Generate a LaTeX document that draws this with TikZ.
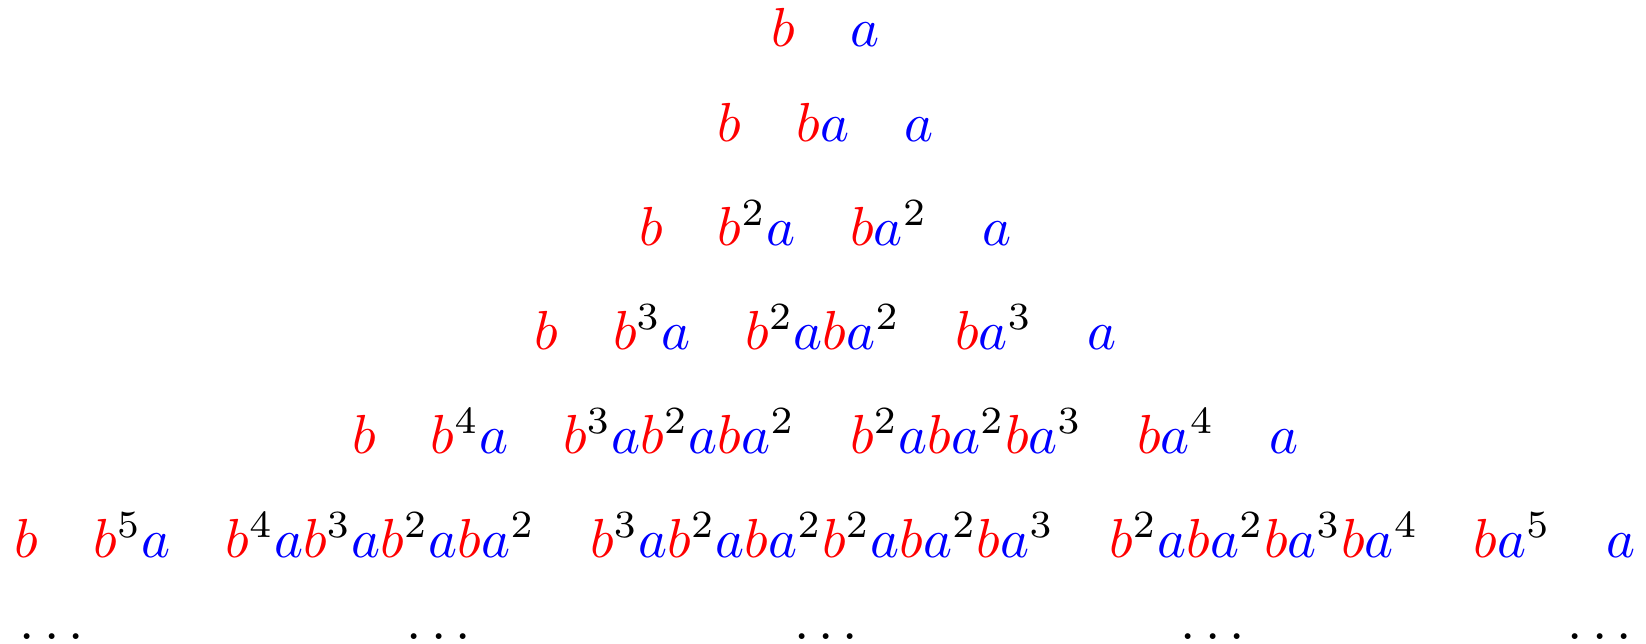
\documentclass[tikz,border=0pt]{standalone}
\usepackage{xcolor}
\newcommand{\B}{{\color{red}b}}
\newcommand{\A}{{\color{blue}a}}
\tikzset{word/.style={inner sep=0pt, outer sep=0pt, anchor=base}}
\begin{document}
\begin{tikzpicture}[x=1pt,y=1pt]
\useasboundingbox (0,0) rectangle (299.27,117.09);
\node[word] (row1) at (150.1,108.6) {$\B\quad\A$};
\node[word] (row2) at (150.1,91.35) {$\B\quad\B\A\quad\A$};
\node[word] (row3) at (150.1,72.45) {$\B\quad\B^2\A\quad\B\A^2\quad\A$};
\node[word] (row4) at (150.1,53.55) {$\B\quad\B^3\A\quad\B^2\A\B\A^2\quad\B\A^3\quad\A$};
\node[word] (row5) at (150.1,34.65) {$\B\quad\B^4\A\quad\B^3\A\B^2\A\B\A^2\quad\B^2\A\B\A^2\B\A^3\quad\B\A^4\quad\A$};
\node[word] (row6) at (150.0,15.75) {$\B\quad\B^5\A\quad\B^4\A\B^3\A\B^2\A\B\A^2\quad\B^3\A\B^2\A\B\A^2\B^2\A\B\A^2\B\A^3\quad\B^2\A\B\A^2\B\A^3\B\A^4\quad\B\A^5\quad\A$};
\node[word] (d1) at (9.45,0.9) {$\ldots$};
\node[word] (d2) at (79.8,0.9) {$\ldots$};
\node[word] (d3) at (150.2,0.9) {$\ldots$};
\node[word] (d4) at (220.5,0.9) {$\ldots$};
\node[word] (d5) at (290.9,0.9) {$\ldots$};
\end{tikzpicture}
\end{document}
